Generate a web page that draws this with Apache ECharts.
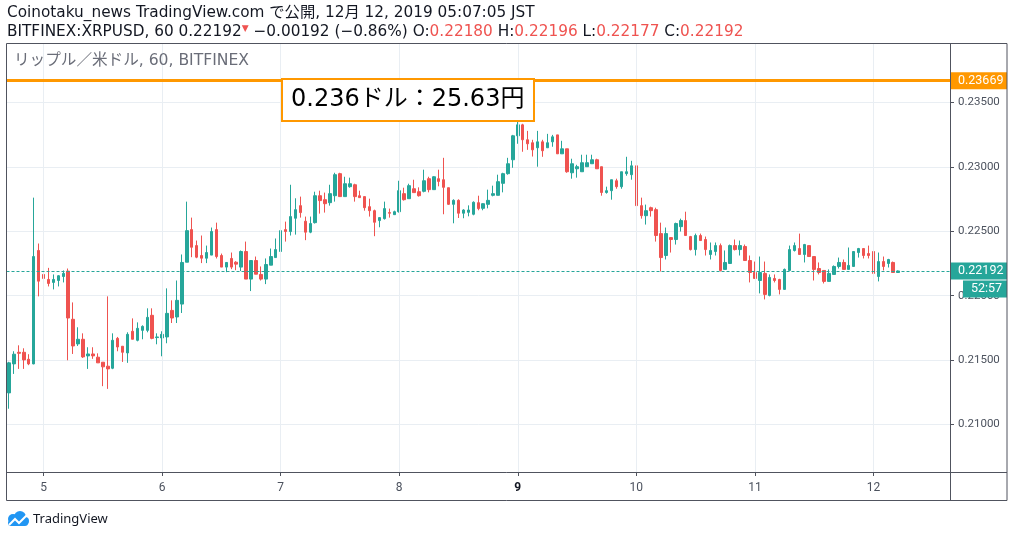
<!DOCTYPE html>
<html>
<head>
<meta charset="utf-8">
<script src="https://cdn.jsdelivr.net/npm/echarts@6/dist/echarts.min.js"></script>
<style>
  html, body { margin: 0; padding: 0; background: #fff; }
  #chart { width: 1014px; height: 537px; }
</style>
</head>
<body>
<div id="chart"></div>
<script>
// 日付ラベル（各日 00:00 のところに表示）
var dayLabels = ['5', '6', '7', '8', '9', '10', '11', '12']
var boldDay = '9'
var firstDay = 4      // 最初のローソク足 12/4 17:00
var firstHour = 17
var slotCount = 191   // 右側の空き領域を含めた時間枠

// 1時間足 OHLC
var opens = [
  0.21246, 0.21471, 0.21561, 0.21561, 0.21507, 0.21471, 0.22351, 0.22165, 0.22126, 0.22103,
  0.22118, 0.22149, 0.22191, 0.21817, 0.21626, 0.21662, 0.21533, 0.21548, 0.21523, 0.21484,
  0.21453, 0.21437, 0.21669, 0.21608, 0.21556, 0.21724, 0.21654, 0.21731, 0.21731, 0.21848,
  0.21675, 0.21672, 0.21680, 0.21886, 0.21835, 0.21935, 0.22260, 0.22513, 0.22389, 0.22312,
  0.22291, 0.22315, 0.22513, 0.22312, 0.22222, 0.22289, 0.22260, 0.22222, 0.22343, 0.22129,
  0.22273, 0.22165, 0.22129, 0.22237, 0.22296, 0.22343, 0.22513, 0.22498, 0.22601, 0.22699,
  0.22578, 0.22493, 0.22567, 0.22776, 0.22745, 0.22722, 0.22776, 0.22947, 0.22769, 0.22846,
  0.22861, 0.22776, 0.22769, 0.22691, 0.22660, 0.22583, 0.22598, 0.22645, 0.22629, 0.22652,
  0.22792, 0.22753, 0.22830, 0.22807, 0.22810, 0.22908, 0.22823, 0.22908, 0.22900, 0.22838,
  0.22709, 0.22740, 0.22640, 0.22647, 0.22632, 0.22722, 0.22678, 0.22709, 0.22779, 0.22779,
  0.22872, 0.22947, 0.23055, 0.23241, 0.23326, 0.23210, 0.23187, 0.23148, 0.23194, 0.23148,
  0.23194, 0.23248, 0.23101, 0.23140, 0.22954, 0.22985, 0.22962, 0.23001, 0.23024, 0.23055,
  0.23001, 0.22801, 0.22815, 0.22892, 0.22846, 0.22947, 0.22939, 0.23008, 0.22699, 0.22621,
  0.22683, 0.22668, 0.22482, 0.22312, 0.22451, 0.22436, 0.22536, 0.22583, 0.22459, 0.22358,
  0.22467, 0.22436, 0.22320, 0.22343, 0.22389, 0.22204, 0.22250, 0.22389, 0.22358, 0.22382,
  0.22273, 0.22180, 0.22118, 0.22173, 0.22002, 0.22134, 0.22126, 0.22049, 0.22196, 0.22351,
  0.22366, 0.22320, 0.22389, 0.22304, 0.22211, 0.22196, 0.22111, 0.22165, 0.22227, 0.22258,
  0.22204, 0.22227, 0.22335, 0.22366, 0.22327, 0.22343, 0.22149, 0.22265, 0.22250, 0.22258,
  0.22180
]
var highs = [
  0.21487, 0.21569, 0.21615, 0.21592, 0.21546, 0.22761, 0.22405, 0.22227, 0.22216, 0.22165,
  0.22160, 0.22196, 0.22211, 0.21948, 0.21755, 0.21708, 0.21600, 0.21600, 0.21553, 0.21484,
  0.21995, 0.21708, 0.21680, 0.21608, 0.21716, 0.21824, 0.21793, 0.21770, 0.21902, 0.21902,
  0.21708, 0.21724, 0.22057, 0.21964, 0.22118, 0.22320, 0.22730, 0.22606, 0.22428, 0.22467,
  0.22389, 0.22529, 0.22567, 0.22327, 0.22258, 0.22335, 0.22268, 0.22351, 0.22420, 0.22273,
  0.22304, 0.22227, 0.22289, 0.22366, 0.22444, 0.22575, 0.22575, 0.22861, 0.22756, 0.22769,
  0.22614, 0.22614, 0.22807, 0.22815, 0.22800, 0.22861, 0.22954, 0.22954, 0.22923, 0.22916,
  0.22869, 0.22815, 0.22769, 0.22753, 0.22668, 0.22606, 0.22730, 0.22676, 0.22660, 0.22892,
  0.22838, 0.22869, 0.22900, 0.22841, 0.22978, 0.22923, 0.22928, 0.22978, 0.23070, 0.22838,
  0.22748, 0.22748, 0.22671, 0.22701, 0.22732, 0.22776, 0.22717, 0.22823, 0.22854, 0.22939,
  0.22954, 0.23070, 0.23248, 0.23396, 0.23334, 0.23279, 0.23210, 0.23279, 0.23210, 0.23256,
  0.23248, 0.23248, 0.23202, 0.23140, 0.23063, 0.23016, 0.23094, 0.23094, 0.23094, 0.23063,
  0.23001, 0.22846, 0.22900, 0.22908, 0.22962, 0.23078, 0.23047, 0.23241, 0.22761, 0.22707,
  0.22691, 0.22683, 0.22567, 0.22529, 0.22455, 0.22567, 0.22598, 0.22652, 0.22464, 0.22482,
  0.22482, 0.22459, 0.22413, 0.22413, 0.22405, 0.22351, 0.22397, 0.22436, 0.22428, 0.22397,
  0.22312, 0.22265, 0.22304, 0.22265, 0.22165, 0.22165, 0.22131, 0.22211, 0.22389, 0.22413,
  0.22482, 0.22402, 0.22389, 0.22304, 0.22258, 0.22196, 0.22204, 0.22235, 0.22296, 0.22281,
  0.22374, 0.22343, 0.22371, 0.22366, 0.22389, 0.22343, 0.22335, 0.22304, 0.22286, 0.22265,
  0.22196
]
var lows = [
  0.21123, 0.21393, 0.21432, 0.21432, 0.21461, 0.21468, 0.21995, 0.22118, 0.22072, 0.22049,
  0.22072, 0.22103, 0.21499, 0.21548, 0.21610, 0.21517, 0.21432, 0.21510, 0.21479, 0.21298,
  0.21277, 0.21430, 0.21569, 0.21486, 0.21479, 0.21662, 0.21646, 0.21662, 0.21716, 0.21662,
  0.21623, 0.21530, 0.21631, 0.21788, 0.21788, 0.21866, 0.22260, 0.22299, 0.22291, 0.22253,
  0.22253, 0.22315, 0.22289, 0.22222, 0.22183, 0.22206, 0.22198, 0.22191, 0.22129, 0.22036,
  0.22167, 0.22118, 0.22090, 0.22237, 0.22296, 0.22296, 0.22420, 0.22467, 0.22474, 0.22606,
  0.22431, 0.22485, 0.22560, 0.22637, 0.22645, 0.22699, 0.22730, 0.22769, 0.22769, 0.22838,
  0.22730, 0.22761, 0.22660, 0.22614, 0.22462, 0.22531, 0.22591, 0.22606, 0.22629, 0.22645,
  0.22738, 0.22753, 0.22800, 0.22769, 0.22802, 0.22802, 0.22823, 0.22849, 0.22632, 0.22704,
  0.22562, 0.22603, 0.22601, 0.22616, 0.22624, 0.22663, 0.22663, 0.22678, 0.22771, 0.22779,
  0.22802, 0.22939, 0.22993, 0.23179, 0.23117, 0.23132, 0.23080, 0.23001, 0.23078, 0.23148,
  0.23156, 0.23101, 0.23101, 0.22954, 0.22908, 0.22916, 0.22962, 0.23001, 0.23024, 0.22985,
  0.22776, 0.22792, 0.22745, 0.22830, 0.22830, 0.22931, 0.22900, 0.22591, 0.22598, 0.22552,
  0.22614, 0.22420, 0.22188, 0.22281, 0.22335, 0.22397, 0.22498, 0.22467, 0.22351, 0.22312,
  0.22428, 0.22312, 0.22281, 0.22312, 0.22188, 0.22204, 0.22250, 0.22351, 0.22312, 0.22273,
  0.22103, 0.22134, 0.22018, 0.21971, 0.21995, 0.22103, 0.22010, 0.22049, 0.22196, 0.22343,
  0.22320, 0.22258, 0.22304, 0.22118, 0.22165, 0.22095, 0.22111, 0.22165, 0.22211, 0.22204,
  0.22204, 0.22227, 0.22296, 0.22289, 0.22289, 0.22080, 0.22111, 0.22196, 0.22219, 0.22180,
  0.22177
]
var closes = [
  0.21479, 0.21546, 0.21553, 0.21502, 0.21471, 0.22304, 0.22113, 0.22134, 0.22095, 0.22126,
  0.22155, 0.22173, 0.21827, 0.21610, 0.21662, 0.21525, 0.21548, 0.21533, 0.21479, 0.21448,
  0.21432, 0.21654, 0.21602, 0.21561, 0.21700, 0.21662, 0.21747, 0.21762, 0.21832, 0.21669,
  0.21680, 0.21700, 0.21863, 0.21827, 0.21964, 0.22258, 0.22505, 0.22376, 0.22299, 0.22291,
  0.22335, 0.22498, 0.22304, 0.22222, 0.22258, 0.22222, 0.22245, 0.22343, 0.22129, 0.22273,
  0.22167, 0.22129, 0.22242, 0.22304, 0.22358, 0.22505, 0.22498, 0.22614, 0.22668, 0.22645,
  0.22493, 0.22560, 0.22776, 0.22738, 0.22714, 0.22792, 0.22939, 0.22769, 0.22869, 0.22869,
  0.22769, 0.22761, 0.22683, 0.22660, 0.22570, 0.22606, 0.22676, 0.22640, 0.22652, 0.22815,
  0.22745, 0.22854, 0.22800, 0.22776, 0.22892, 0.22823, 0.22923, 0.22887, 0.22841, 0.22709,
  0.22740, 0.22640, 0.22665, 0.22665, 0.22725, 0.22676, 0.22714, 0.22740, 0.22792, 0.22885,
  0.22947, 0.23024, 0.23241, 0.23326, 0.23210, 0.23179, 0.23132, 0.23194, 0.23125, 0.23187,
  0.23233, 0.23101, 0.23140, 0.22962, 0.23024, 0.23001, 0.23032, 0.23032, 0.23055, 0.22985,
  0.22801, 0.22815, 0.22900, 0.22846, 0.22962, 0.22962, 0.23008, 0.22699, 0.22621, 0.22660,
  0.22660, 0.22467, 0.22296, 0.22482, 0.22436, 0.22560, 0.22583, 0.22467, 0.22358, 0.22467,
  0.22428, 0.22358, 0.22351, 0.22389, 0.22196, 0.22258, 0.22389, 0.22358, 0.22389, 0.22273,
  0.22180, 0.22134, 0.22180, 0.22010, 0.22142, 0.22118, 0.22049, 0.22204, 0.22358, 0.22389,
  0.22320, 0.22397, 0.22304, 0.22204, 0.22180, 0.22111, 0.22173, 0.22227, 0.22258, 0.22204,
  0.22235, 0.22343, 0.22366, 0.22312, 0.22312, 0.22173, 0.22265, 0.22227, 0.22281, 0.22180,
  0.22192
]
var lastPrice = 0.22192
var alertPrice = 0.23669
var countdown = '52:57'

// 時間軸のカテゴリ
var cats = []
var midnightIdx = {}
for (let k = 0; k < slotCount; k++) {
  let h = (firstHour + k) % 24
  let d = firstDay + Math.floor((firstHour + k) / 24)
  cats.push(d + ' ' + (h < 10 ? '0' + h : h) + ':00')
  if (h === 0) midnightIdx[k] = String(d)
}
var candles = []
for (let i = 0; i < opens.length; i++) {
  candles.push([opens[i], closes[i], lows[i], highs[i]])
}
var dayLines = []
Object.keys(midnightIdx).forEach(function (k) {
  if (dayLabels.indexOf(midnightIdx[k]) >= 0) dayLines.push({ xAxis: cats[k] })
})

var GREEN = '#26a69a'
var RED = '#ef5350'
var ORANGE = '#ff9800'
var FRAME = '#50535e'
var GRID = '#e9eef3'
var TXT = '#131722'
var HEAD = '"DejaVu Sans", "Noto Sans CJK JP", sans-serif'
var AXF = 'Roboto, sans-serif'

function isMidnight (index) {
  return midnightIdx[index] !== undefined
}

// 右軸の価格ラベル
function priceTag (text, bg, offset, w) {
  return {
    show: true, position: 'end', distance: 0, formatter: text, offset: offset || [0, 0],
    backgroundColor: bg, color: '#fff', fontSize: 12.5, lineHeight: 13, fontFamily: AXF,
    padding: [2, 4, 2, 8], width: w || 45, align: 'left'
  }
}

let chart = echarts.init(document.getElementById('chart'), null, { renderer: 'canvas' })
let option = {
  animation: false,
  backgroundColor: '#fff',
  grid: { left: 6.5, right: 64, top: 43, bottom: 65 },
  xAxis: {
    type: 'category',
    data: cats,
    boundaryGap: true,
    axisLine: { show: false },
    axisTick: { show: true, interval: isMidnight, alignWithLabel: true, length: 4, lineStyle: { color: FRAME } },
    axisLabel: {
      interval: isMidnight,
      margin: 10,
      color: '#4c525e',
      fontSize: 12,
      fontFamily: AXF,
      formatter: function (value, index) {
        let d = midnightIdx[index]
        if (d === undefined) return ''
        return d === boldDay ? '{b|' + d + '}' : d
      },
      rich: { b: { fontWeight: 'bold', fontSize: 12, color: TXT, fontFamily: AXF } }
    },
    splitLine: { show: false }
  },
  yAxis: {
    type: 'value',
    position: 'right',
    min: 0.20632,
    max: 0.23961,
    splitNumber: 7,
    axisLine: { show: false },
    axisTick: { show: true, length: 4, lineStyle: { color: FRAME } },
    axisLabel: {
      margin: 8,
      color: '#4c525e',
      fontSize: 11.5,
      fontFamily: AXF,
      showMinLabel: false,
      showMaxLabel: false,
      formatter: function (v) { return v.toFixed(5) }
    },
    splitLine: { lineStyle: { color: GRID, width: 1 } }
  },
  series: [
    {
      // 日付の縦グリッド線
      type: 'line',
      data: [],
      z: 1,
      silent: true,
      markLine: {
        silent: true,
        symbol: ['none', 'none'],
        label: { show: false },
        lineStyle: { color: GRID, width: 1, type: 'solid' },
        data: dayLines
      }
    },
    {
      type: 'candlestick',
      data: candles,
      barWidth: 3,
      z: 3,
      itemStyle: {
        color: GREEN,
        color0: RED,
        borderColor: GREEN,
        borderColor0: RED,
        borderWidth: 1
      },
      markLine: {
        silent: true,
        precision: 5,
        symbol: ['none', 'none'],
        data: [
          {
            yAxis: alertPrice,
            lineStyle: { color: ORANGE, width: 3, type: 'solid' },
            label: priceTag(alertPrice.toFixed(5), ORANGE)
          },
          {
            yAxis: lastPrice,
            lineStyle: { color: GREEN, width: 1.2, type: [3, 2] },
            label: priceTag(lastPrice.toFixed(5), GREEN)
          }
        ]
      }
    },
    {
      // 残り時間タグ
      type: 'line',
      data: [],
      z: 4,
      silent: true,
      markLine: {
        silent: true,
        precision: 5,
        symbol: ['none', 'none'],
        data: [
          {
            yAxis: lastPrice,
            lineStyle: { color: 'rgba(0,0,0,0)', width: 0 },
            label: priceTag(countdown, GREEN, [13, 18], 32)
          }
        ]
      }
    }
  ],
  graphic: [
    {
      type: 'text', left: 7, top: 5, z: 10,
      style: {
        text: 'Coinotaku_news TradingView.com で公開, 12月 12, 2019 05:07:05 JST',
        fill: TXT, font: '15.3px ' + HEAD
      }
    },
    {
      type: 'text', left: 7, top: 24, z: 10,
      style: {
        text: 'BITFINEX:XRPUSD, 60 0.22192{t|▼} −0.00192 (−0.86%) O:{r|0.22180} H:{r|0.22196} L:{r|0.22177} C:{r|0.22192}',
        fill: TXT, font: '15.3px ' + HEAD,
        rich: {
          r: { fill: RED, font: '15.3px ' + HEAD },
          t: { fill: RED, font: '9px ' + HEAD, verticalAlign: 'top' }
        }
      }
    },
    {
      type: 'text', left: 14, top: 53, z: 10,
      style: { text: 'リップル／米ドル, 60, BITFINEX', fill: '#6a6d78', font: '15.6px ' + HEAD }
    },
    // 注記ボックス
    {
      type: 'rect', z: 20,
      shape: { x: 282, y: 79, width: 252, height: 42 },
      style: { fill: '#fff', stroke: ORANGE, lineWidth: 2 }
    },
    {
      type: 'text', z: 21, x: 291, y: 100,
      style: { text: '0.236ドル：25.63円', fill: '#000', font: '24px ' + HEAD, verticalAlign: 'middle' }
    },
    // 枠線
    {
      type: 'rect', z: 30, silent: true,
      shape: { x: 6.5, y: 43.5, width: 1000.5, height: 457 },
      style: { fill: 'none', stroke: FRAME, lineWidth: 1 }
    },
    {
      type: 'line', z: 30, silent: true,
      shape: { x1: 950.5, y1: 43.5, x2: 950.5, y2: 500.5 },
      style: { stroke: FRAME, lineWidth: 1 }
    },
    {
      type: 'line', z: 30, silent: true,
      shape: { x1: 6.5, y1: 472.5, x2: 1007, y2: 472.5 },
      style: { stroke: FRAME, lineWidth: 1 }
    },
    // TradingView ロゴ
    {
      type: 'group', z: 10,
      children: [
        { type: 'circle', shape: { cx: 13, cy: 519, r: 5 }, style: { fill: '#2196f3' } },
        { type: 'circle', shape: { cx: 20, cy: 517, r: 6 }, style: { fill: '#2196f3' } },
        { type: 'circle', shape: { cx: 25, cy: 521, r: 4 }, style: { fill: '#2196f3' } },
        { type: 'rect', shape: { x: 8, y: 520, width: 20, height: 6, r: 3 }, style: { fill: '#2196f3' } },
        {
          type: 'polyline', shape: { points: [[9, 525], [15, 519], [19, 523], [27, 515]] },
          style: { stroke: '#fff', lineWidth: 2, fill: 'none' }
        },
        {
          type: 'text', x: 33, y: 519,
          style: { text: 'TradingView', fill: TXT, font: '13px "Noto Sans", sans-serif', verticalAlign: 'middle' }
        }
      ]
    }
  ]
}
chart.setOption(option)
</script>
</body>
</html>
